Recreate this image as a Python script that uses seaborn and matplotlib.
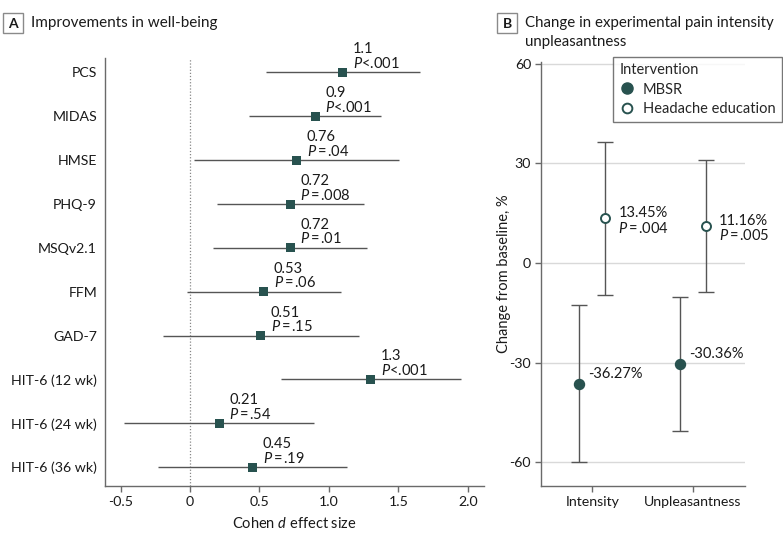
import matplotlib
matplotlib.use("Agg")
import matplotlib.pyplot as plt
import seaborn as sns
import numpy as np
import pandas as pd
from matplotlib.lines import Line2D
from matplotlib.patches import Rectangle

# ---------------- data ----------------
measures = ["PCS", "MIDAS", "HMSE", "PHQ-9", "MSQv2.1", "FFM", "GAD-7",
            "HIT-6 (12 wk)", "HIT-6 (24 wk)", "HIT-6 (36 wk)"]
effect = [1.10, 0.90, 0.767, 0.72, 0.72, 0.53, 0.51, 1.30, 0.21, 0.45]
ci_low = [0.545, 0.427, 0.029, 0.197, 0.168, -0.019, -0.192, 0.657, -0.475, -0.23]
ci_high = [1.655, 1.372, 1.504, 1.252, 1.271, 1.084, 1.213, 1.95, 0.892, 1.127]
effect_labels = ["1.1", "0.9", "0.76", "0.72", "0.72", "0.53", "0.51", "1.3", "0.21", "0.45"]
p_labels = ["<.001", "<.001", "\u2009=\u2009.04", "\u2009=\u2009.008", "\u2009=\u2009.01",
            "\u2009=\u2009.06", "\u2009=\u2009.15", "<.001", "\u2009=\u2009.54", "\u2009=\u2009.19"]
xticks_a = [-0.5, 0, 0.5, 1.0, 1.5, 2.0]
xticklabels_a = ["-0.5", "0", "0.5", "1.0", "1.5", "2.0"]

outcomes = ["Intensity", "Unpleasantness"]
groups = ["MBSR", "Headache education"]
mbsr_val = [-36.27, -30.36]
mbsr_lo = [-60.0, -50.6]
mbsr_hi = [-12.5, -10.1]
he_val = [13.45, 11.16]
he_lo = [-9.6, -8.7]
he_hi = [36.5, 31.0]
mbsr_text = ["-36.27%", "-30.36%"]
he_text = ["13.45%", "11.16%"]
he_p = [".004", ".005"]
yticks_b = [60, 30, 0, -30, -60]

# ---------------- style ----------------
sns.set_style("white")
plt.rcParams["font.family"] = ["Lato", "DejaVu Sans"]
plt.rcParams["mathtext.fontset"] = "custom"
plt.rcParams["mathtext.rm"] = "Lato"
plt.rcParams["mathtext.it"] = "Lato:italic"
plt.rcParams["axes.unicode_minus"] = False

TEAL = "#28524f"
LINE = "#555555"
SPINE = "#6a6a6a"
TXT = "#1a1a1a"

W, H = 783, 541
fig = plt.figure(figsize=(7.83, 5.41), dpi=100)
axA = fig.add_axes([0.1337, 0.1017, 0.618 - 0.1337, 0.8928 - 0.1017])
axB = fig.add_axes([0.6906, 0.1017, 0.9515 - 0.6906, 0.8850 - 0.1017])

# ---------------- panel A ----------------
dfA = pd.DataFrame({"measure": measures, "d": effect, "lo": ci_low, "hi": ci_high})
axA.axvline(0, color="#888888", lw=0.9, ls=(0, (1, 1.5)), zorder=1)
axA.hlines(y=dfA["measure"], xmin=dfA["lo"], xmax=dfA["hi"], color=LINE, lw=1.0, zorder=2)
sns.scatterplot(data=dfA, x="d", y="measure", marker="s", s=42, color=TEAL,
                edgecolor="none", ax=axA, zorder=3, legend=False)
axA.set_ylim(9.43, -0.33)
axA.set_xlim(-0.614, 2.115)
axA.set_xticks(xticks_a)
axA.set_xticklabels(xticklabels_a)
for i, (x, el, pl) in enumerate(zip(effect, effect_labels, p_labels)):
    axA.annotate(el, (x, measures[i]), xytext=(10, 23), textcoords="offset pixels",
                 ha="left", va="center", fontsize=10.5, color=TXT)
    axA.annotate("$P$" + pl, (x, measures[i]), xytext=(10, 9), textcoords="offset pixels",
                 ha="left", va="center", fontsize=10.5, color=TXT)
axA.set_ylabel("")
axA.set_xlabel("Cohen $d$ effect size", fontsize=10.5, color=TXT, labelpad=6)
for s in ["top", "right"]:
    axA.spines[s].set_visible(False)
for s in ["left", "bottom"]:
    axA.spines[s].set_color(SPINE)
    axA.spines[s].set_linewidth(1.0)
axA.tick_params(axis="y", length=0, pad=5.5, labelsize=10.2, labelcolor=TXT)
axA.tick_params(axis="x", length=4, width=1, color=SPINE, pad=3, labelsize=10.2, labelcolor=TXT,
                bottom=True)

# ---------------- panel B ----------------
dodge = 0.13
pos = np.arange(len(outcomes))
dfB = pd.DataFrame({
    "x": np.concatenate([pos - dodge, pos + dodge]),
    "value": mbsr_val + he_val,
    "group": [groups[0]] * 2 + [groups[1]] * 2,
})
for y in yticks_b:
    axB.axhline(y, color="#d9d9d9", lw=1.0, zorder=0)
axB.errorbar(pos - dodge, mbsr_val,
             yerr=[np.subtract(mbsr_val, mbsr_lo), np.subtract(mbsr_hi, mbsr_val)],
             fmt="none", ecolor=LINE, elinewidth=1.0, capsize=6, capthick=1.0, zorder=2)
axB.errorbar(pos + dodge, he_val,
             yerr=[np.subtract(he_val, he_lo), np.subtract(he_hi, he_val)],
             fmt="none", ecolor=LINE, elinewidth=1.0, capsize=6, capthick=1.0, zorder=2)
sns.scatterplot(data=dfB[dfB.group == groups[0]], x="x", y="value", marker="o", s=52,
                color=TEAL, edgecolor=TEAL, linewidth=1.0, ax=axB, zorder=3, legend=False)
sns.scatterplot(data=dfB[dfB.group == groups[1]], x="x", y="value", marker="o", s=42,
                facecolor="white", edgecolor=TEAL, linewidth=1.4, ax=axB, zorder=3, legend=False)
axB.set_xlim(-0.514, 1.52)
axB.set_ylim(-67.1, 60.4)
axB.set_xticks(pos)
axB.set_xticklabels(outcomes)
axB.set_yticks(yticks_b)
axB.set_yticklabels([str(v) for v in yticks_b])
axB.set_xlabel("")
axB.set_ylabel("Change from baseline, %", fontsize=10.5, color=TXT, labelpad=-1)
for i in range(len(outcomes)):
    axB.annotate(mbsr_text[i], (pos[i] - dodge, mbsr_val[i]), xytext=(9, 10),
                 textcoords="offset pixels", ha="left", va="center", fontsize=10.5, color=TXT)
    axB.annotate(he_text[i], (pos[i] + dodge, he_val[i]), xytext=(13, 5),
                 textcoords="offset pixels", ha="left", va="center", fontsize=10.5, color=TXT)
    axB.annotate("$P$\u2009=\u2009" + he_p[i], (pos[i] + dodge, he_val[i]), xytext=(13, -10),
                 textcoords="offset pixels", ha="left", va="center", fontsize=10.5, color=TXT)
for s in ["top", "right"]:
    axB.spines[s].set_visible(False)
for s in ["left", "bottom"]:
    axB.spines[s].set_color(SPINE)
    axB.spines[s].set_linewidth(1.0)
axB.tick_params(axis="both", length=4, width=1, color=SPINE, pad=3, labelsize=10.2,
                labelcolor=TXT, bottom=True, left=True)

handles = [
    Line2D([], [], marker="o", ls="none", markersize=8, markerfacecolor=TEAL,
           markeredgecolor=TEAL, label=groups[0]),
    Line2D([], [], marker="o", ls="none", markersize=7, markerfacecolor="white",
           markeredgecolor=TEAL, markeredgewidth=1.4, label=groups[1]),
]
leg = axB.legend(handles=handles, title="Intervention", loc="upper right",
                 bbox_to_anchor=(1.181, 1.0125), borderaxespad=0, fontsize=10.5,
                 title_fontsize=10.5, frameon=True, fancybox=False, handletextpad=0.6,
                 handlelength=1.0, borderpad=0.45, labelspacing=0.35, alignment="left")
leg.get_frame().set_edgecolor("#555555")
leg.get_frame().set_linewidth(1.0)

# ---------------- panel titles ----------------
def panel_box(x0, y0, w, h, letter):
    fig.patches.append(Rectangle((x0 / W, 1 - (y0 + h) / H), w / W, h / H,
                                 transform=fig.transFigure, facecolor="white",
                                 edgecolor="#8a8a8a", lw=1.0))
    fig.text((x0 + w / 2) / W, 1 - (y0 + h / 2 + 0.5) / H, letter, fontsize=10,
             fontweight="bold", ha="center", va="center", color=TXT)

panel_box(3.3, 12.7, 19.4, 20.6, "A")
fig.text(31 / W, 1 - 23 / H, "Improvements in well-being", fontsize=11,
         ha="left", va="center", color=TXT)
panel_box(497.5, 12.7, 19.4, 20.6, "B")
fig.text(525 / W, 1 - 23 / H, "Change in experimental pain intensity",
         fontsize=10.8, ha="left", va="center", color=TXT)
fig.text(525 / W, 1 - 42 / H, "unpleasantness",
         fontsize=10.8, ha="left", va="center", color=TXT)

fig.savefig("out.png", dpi=100)
